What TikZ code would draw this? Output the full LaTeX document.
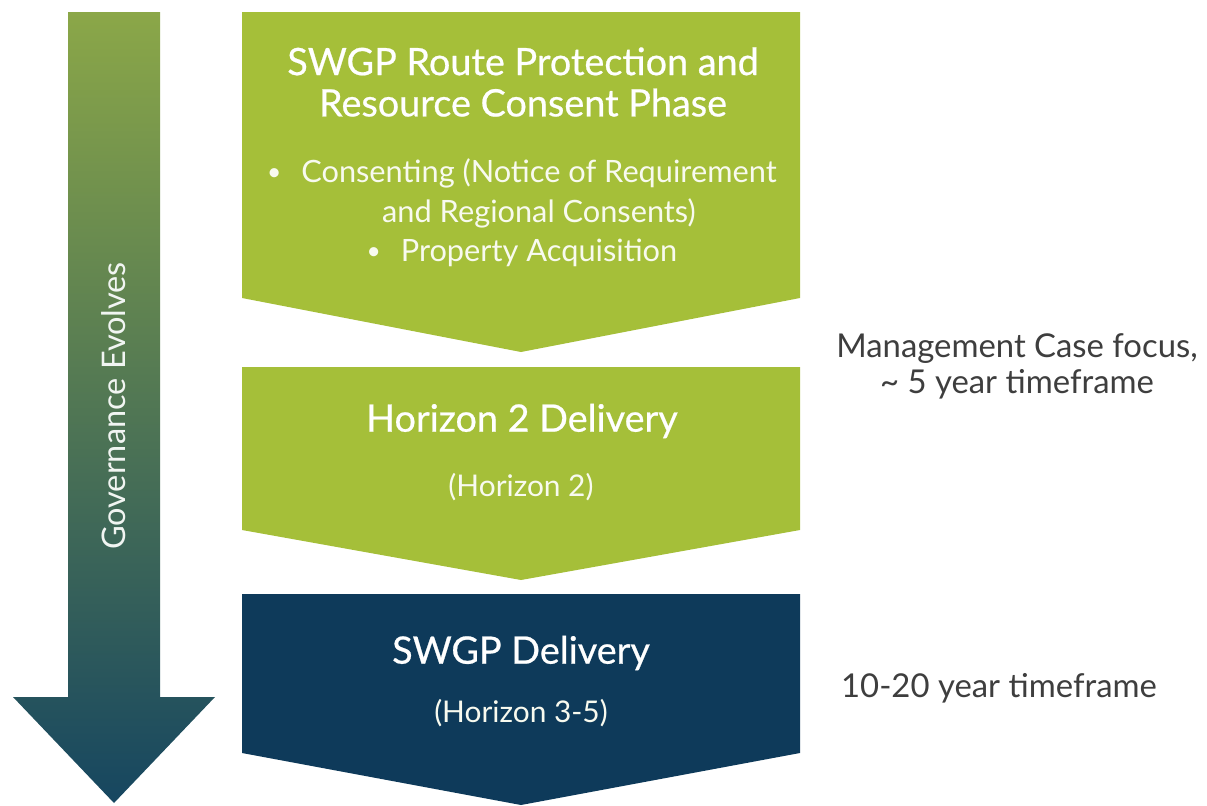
\documentclass[tikz,border=0pt]{standalone}
\usepackage{fontspec}
\setmainfont{Lato}
\newfontfamily\phasefont{Lato}[FakeBold=0.6]
\usetikzlibrary{positioning, calc}
\definecolor{phasegreen}{RGB}{165, 191, 57}
\definecolor{phasenavy}{RGB}{14, 58, 90}
\definecolor{govtop}{RGB}{139, 167, 72}
\definecolor{govmid}{RGB}{86, 126, 88}
\definecolor{govbot}{RGB}{22, 70, 96}
\definecolor{notegray}{RGB}{62, 62, 62}
\newcommand{\itemdot}{\llap{\raisebox{1pt}{\fontsize{14}{14}\selectfont\textbullet}\hspace{0.65em}}}

\begin{document}
\begin{tikzpicture}[
  x=0.02cm, y=-0.02cm,
  ptitle/.style={text=white, font=\phasefont\fontsize{21.5}{23.5}\selectfont, align=center, inner sep=0pt},
  pitem/.style={text=white!92!phasegreen, font=\fontsize{17.5}{22.7}\selectfont, align=center, inner sep=0pt},
  psub/.style={text=white!92!phasegreen, font=\fontsize{17}{20}\selectfont, align=center, inner sep=0pt},
  pnote/.style={text=notegray, font=\fontsize{18.7}{20.5}\selectfont, align=center, inner sep=0pt},
  govtext/.style={text=white!92!govmid, font=\fontsize{18.5}{20}\selectfont, rotate=90, inner sep=0pt}
]
  \useasboundingbox (0,0) rectangle (1207,805);

  % governance arrow
  \shade[top color=govtop, middle color=govmid, bottom color=govbot]
    (68,12) -- (160,12) -- (160,697) -- (215,697) -- (114,803) -- (13,697) -- (68,697) -- cycle;
  \node[govtext] (gov) at (114,406) {Governance Evolves};

  % phase chevrons
  \fill[phasegreen] (242,12) -- (800,12) -- (800,298) -- (521,352) -- (242,298) -- cycle;
  \fill[phasegreen] (242,367) -- (800,367) -- (800,530) -- (521,580) -- (242,530) -- cycle;
  \fill[phasenavy] (242,594) -- (800,594) -- (800,753) -- (521,805) -- (242,753) -- cycle;

  \node[ptitle] (route) at (523,82) {SWGP Route Protection and\\Resource Consent Phase};
  \node[pitem] (consent) at (539,193) {\itemdot Consenting (Notice of Requirement\\and Regional Consents)};
  \node[pitem] (property) at (539,253) {\itemdot Property Acquisition};

  \node[ptitle] (h2) at (522,421) {Horizon 2 Delivery};
  \node[psub] (h2sub) at (521,487) {(Horizon 2)};

  \node[ptitle] (swgp) at (521,653) {SWGP Delivery};
  \node[psub] (swgpsub) at (521,713) {(Horizon 3-5)};

  % timeframe notes
  \node[pnote] (mgmt) at (1017,366) {Management Case focus,\\\textasciitilde\ 5 year timeframe};
  \node[pnote] (long) at (999,688) {10-20 year timeframe};
\end{tikzpicture}
\end{document}
